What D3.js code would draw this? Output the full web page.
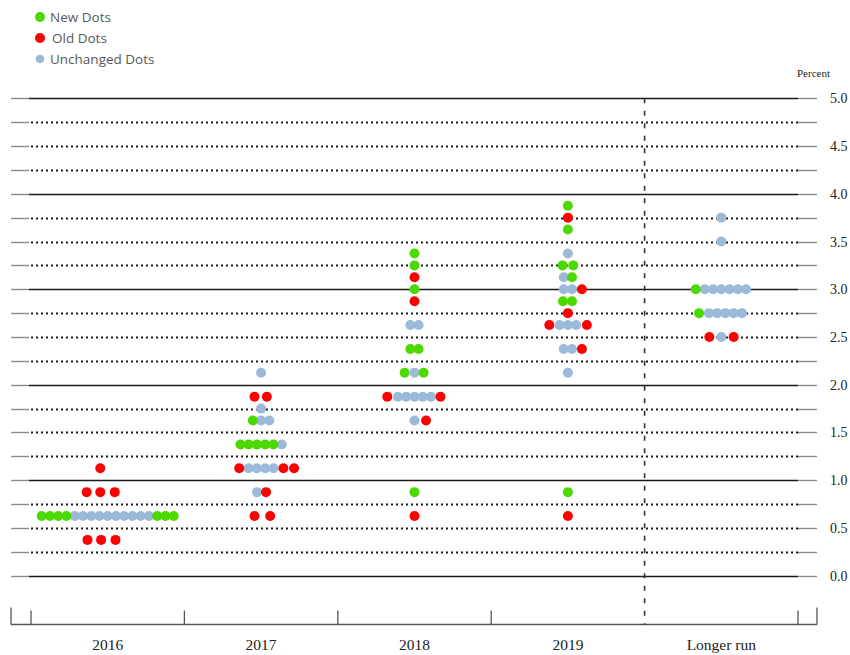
<!DOCTYPE html>
<html>
<head>
<meta charset="utf-8">
<script src="https://cdn.jsdelivr.net/npm/d3@7"></script>
<style>
  html, body { margin: 0; padding: 0; background: #fff; }
  svg { display: block; }
</style>
</head>
<body>
<svg id="chart" width="850" height="655"></svg>
<script>
// ---------- data ----------
const categories = ["2016", "2017", "2018", "2019", "Longer run"];
const yTickValues = [0, 0.5, 1, 1.5, 2, 2.5, 3, 3.5, 4, 4.5, 5];
const gridValues = d3.range(0, 5.001, 0.25);
const legendLabels = ["New Dots", "Old Dots", "Unchanged Dots"];

// each dot: [category index, rate (percent), slot within its row]
const newDots = [
  [0, 0.625, -8], [0, 0.625, -7], [0, 0.625, -6], [0, 0.625, -5],
  [0, 0.625, 6], [0, 0.625, 7], [0, 0.625, 8],
  [1, 1.625, -1],
  [1, 1.375, -2.5], [1, 1.375, -1.5], [1, 1.375, -0.5], [1, 1.375, 0.5], [1, 1.375, 1.5],
  [2, 3.375, 0], [2, 3.25, 0], [2, 3.0, 0],
  [2, 2.375, -0.5], [2, 2.375, 0.5],
  [2, 2.125, -1.2], [2, 2.125, 1.1],
  [2, 0.875, 0],
  [3, 3.875, 0], [3, 3.625, 0],
  [3, 3.25, -0.65], [3, 3.25, 0.65],
  [3, 3.125, 0.5],
  [3, 2.875, -0.6], [3, 2.875, 0.5],
  [3, 0.875, 0],
  [4, 3.0, -3.1], [4, 2.75, -2.7]
];
const oldDots = [
  [0, 1.125, -0.9],
  [0, 0.875, -2.55], [0, 0.875, -0.9], [0, 0.875, 0.85],
  [0, 0.375, -2.45], [0, 0.375, -0.8], [0, 0.375, 0.95],
  [1, 1.875, -0.8], [1, 1.875, 0.7],
  [1, 1.125, -2.65], [1, 1.125, 2.7], [1, 1.125, 4.0],
  [1, 0.875, 0.6],
  [1, 0.625, -0.8], [1, 0.625, 1.1],
  [2, 3.125, 0], [2, 2.875, 0],
  [2, 1.875, -3.3], [2, 1.875, 3.15],
  [2, 1.625, 1.4],
  [2, 0.625, 0],
  [3, 3.75, 0], [3, 3.0, 1.7], [3, 2.75, 0],
  [3, 2.625, -2.25], [3, 2.625, 2.3],
  [3, 2.375, 1.7],
  [3, 0.625, 0],
  [4, 2.5, -1.45], [4, 2.5, 1.5]
];
const unchangedDots = [
  [0, 0.625, -4], [0, 0.625, -3], [0, 0.625, -2], [0, 0.625, -1], [0, 0.625, 0],
  [0, 0.625, 1], [0, 0.625, 2], [0, 0.625, 3], [0, 0.625, 4], [0, 0.625, 5],
  [1, 2.125, 0], [1, 1.75, 0],
  [1, 1.625, 0], [1, 1.625, 1],
  [1, 1.375, 2.5],
  [1, 1.125, -1.5], [1, 1.125, -0.5], [1, 1.125, 0.5], [1, 1.125, 1.5],
  [1, 0.875, -0.5],
  [2, 2.625, -0.5], [2, 2.625, 0.5],
  [2, 2.125, 0],
  [2, 1.875, -2], [2, 1.875, -1], [2, 1.875, 0], [2, 1.875, 1], [2, 1.875, 2],
  [2, 1.625, 0],
  [3, 3.375, 0], [3, 3.125, -0.5],
  [3, 3.0, -0.5], [3, 3.0, 0.5],
  [3, 2.625, -1], [3, 2.625, 0], [3, 2.625, 1],
  [3, 2.375, -0.5], [3, 2.375, 0.5],
  [3, 2.125, 0],
  [4, 3.75, 0], [4, 3.5, 0],
  [4, 3.0, -2], [4, 3.0, -1], [4, 3.0, 0], [4, 3.0, 1], [4, 3.0, 2], [4, 3.0, 3],
  [4, 2.75, -1.5], [4, 2.75, -0.5], [4, 2.75, 0.5], [4, 2.75, 1.5], [4, 2.75, 2.5],
  [4, 2.5, 0]
];

// ---------- layout / styles ----------
const colors = { new: "#4CD900", old: "#FF0000", unchanged: "#9CB9DA" };
const serif = "'Liberation Serif', 'Times New Roman', serif";
const sans = "'Open Sans', 'Noto Sans', sans-serif";
const slot = 8.25, dotR = 5;

const svg = d3.select("#chart");
const x = d3.scaleBand().domain(categories).range([31, 798]);
const y = d3.scaleLinear().domain([0, 5]).range([575.7, 98.3]);

const outerL = 11, outerR = 817, plotL = 29;

// gridlines
const grid = svg.append("g");
gridValues.forEach(v => {
  const yy = Math.round(y(v)) + 0.5;
  const whole = Math.abs(v - Math.round(v)) < 1e-6;
  grid.append("line")
    .attr("x1", outerL).attr("x2", plotL).attr("y1", yy).attr("y2", yy)
    .attr("stroke", "#8a8a8a").attr("stroke-width", 1.4);
  grid.append("line")
    .attr("x1", x.range()[1]).attr("x2", outerR).attr("y1", yy).attr("y2", yy)
    .attr("stroke", "#8a8a8a").attr("stroke-width", 1.4);
  const l = grid.append("line")
    .attr("x1", whole ? plotL : 31).attr("x2", x.range()[1]).attr("y1", yy).attr("y2", yy);
  if (whole) {
    l.attr("stroke", "#1a1a1a").attr("stroke-width", 1.7);
  } else {
    l.attr("stroke", "#1a1a1a").attr("stroke-width", 2).attr("stroke-dasharray", "2,3");
  }
});

// right tick labels
svg.append("g").selectAll("text").data(yTickValues).join("text")
  .attr("x", 830).attr("y", d => y(d) + 5)
  .attr("font-family", serif).attr("font-size", 14).attr("fill", "#222")
  .text(d => d3.format(".1f")(d));

svg.append("text").attr("x", 797).attr("y", 77)
  .attr("font-family", serif).attr("font-size", 11).attr("fill", "#222")
  .text("Percent");

// bottom axis
const axisY = 624.5;
const ax = svg.append("g").attr("stroke", "#555").attr("stroke-width", 1.3);
ax.append("line").attr("x1", outerL).attr("x2", outerR).attr("y1", axisY).attr("y2", axisY);
[outerL, outerR].forEach(xx => {
  ax.append("line").attr("x1", xx).attr("x2", xx).attr("y1", 607.5).attr("y2", axisY);
});
const bounds = categories.map(c => x(c)).concat([x.range()[1]]);
bounds.forEach((b, i) => {
  if (i === 4) return;
  ax.append("line").attr("x1", b).attr("x2", b).attr("y1", 610.5).attr("y2", axisY);
});

// dashed separator before "Longer run"
svg.append("line")
  .attr("x1", x("Longer run")).attr("x2", x("Longer run"))
  .attr("y1", y(5)).attr("y2", axisY)
  .attr("stroke", "#333").attr("stroke-width", 1.6).attr("stroke-dasharray", "5,7.5");

// category labels
svg.append("g").selectAll("text").data(categories).join("text")
  .attr("x", d => x(d) + x.bandwidth() / 2).attr("y", 650)
  .attr("text-anchor", "middle")
  .attr("font-family", serif).attr("font-size", 15.5).attr("fill", "#222")
  .text(d => d);

// dots
function drawDots(data, color) {
  svg.append("g").selectAll("circle").data(data).join("circle")
    .attr("cx", d => x(categories[d[0]]) + x.bandwidth() / 2 + d[2] * slot)
    .attr("cy", d => y(d[1]))
    .attr("r", dotR)
    .attr("fill", color);
}
drawDots(unchangedDots, colors.unchanged);
drawDots(newDots, colors.new);
drawDots(oldDots, colors.old);

// legend
const legendColors = [colors.new, colors.old, colors.unchanged];
const legendR = [5, 5, 4.3];
const legendTextX = [50, 52, 50];
const lg = svg.append("g");
legendLabels.forEach((lab, i) => {
  const cy = 17 + i * 21;
  lg.append("circle").attr("cx", 40).attr("cy", cy).attr("r", legendR[i]).attr("fill", legendColors[i]);
  lg.append("text").attr("x", legendTextX[i]).attr("y", cy + 5)
    .attr("font-family", sans).attr("font-size", 13.5).attr("fill", "#595959")
    .text(lab);
});
</script>
</body>
</html>
